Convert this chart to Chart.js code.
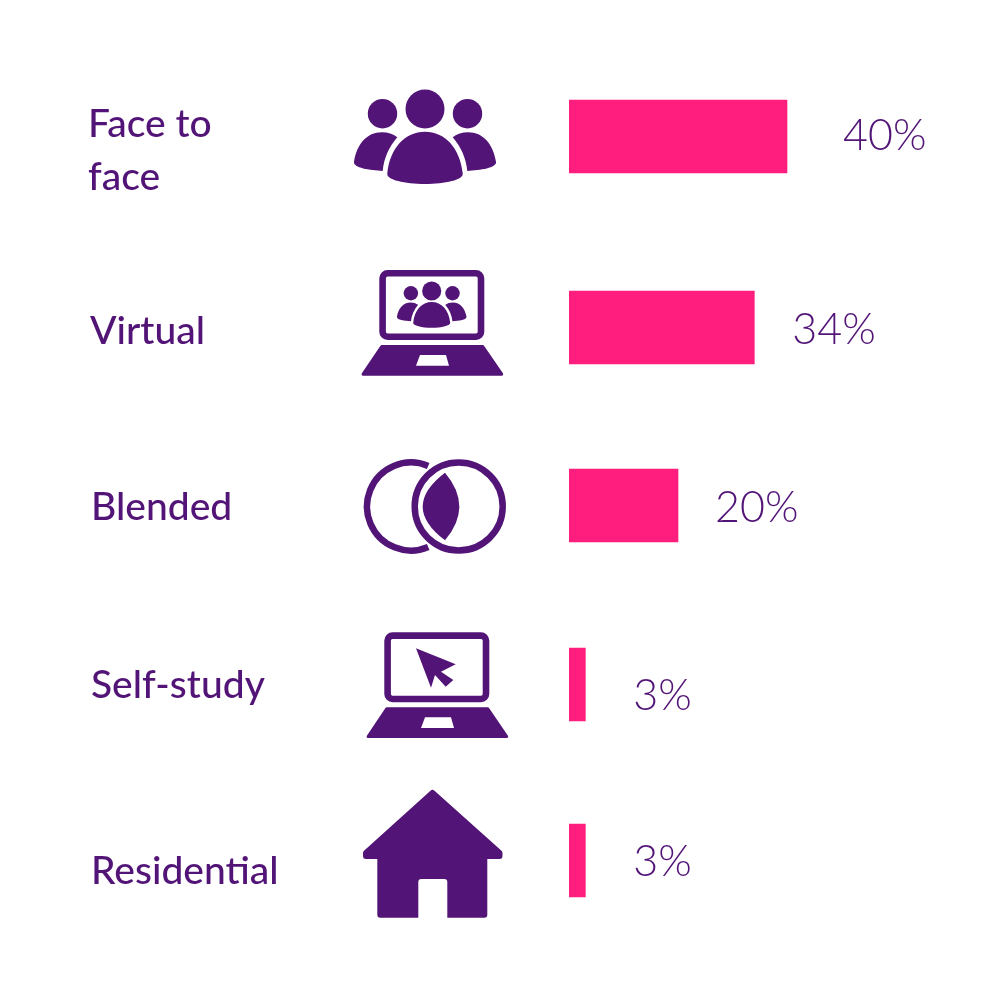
<!DOCTYPE html>
<html>
<head>
<meta charset="utf-8">
<style>
  html, body { margin: 0; padding: 0; background: #fff; overflow: hidden; }
  canvas { display: block; }
</style>
<script src="https://cdn.jsdelivr.net/npm/chart.js@4/dist/chart.umd.js"></script>
</head>
<body>
<canvas id="chart" width="1008" height="1008"></canvas>
<script>
const categories = ['Face to face', 'Virtual', 'Blended', 'Self-study', 'Residential'];
const shares = [40, 34, 20, 3, 3];

const purple = '#521477';
const pink = '#ff1e7d';

// the rows in the picture are not quite evenly spaced
const rowNudge = [0, 10, 7, 5, 0];
const labelLines = [['Face to', 'face'], ['Virtual'], ['Blended'], ['Self-study'], ['Residential']];
const labelLeft = [88, 90, 91, 91, 91];
const labelDrop = [0, 16, 14, 13, 23];   // first baseline, below bar centre
const valueGap = [56, 38, 37, 48, 48];   // from bar end
const valueDrop = [13, 16, 16, 25, 15];

class RowScale extends Chart.CategoryScale {
    getPixelForValue(value) {
        const i = typeof value === 'number' ? value : this.parse(value);
        return super.getPixelForValue(i) + (rowNudge[i] || 0);
    }
}
RowScale.id = 'rowScale';
RowScale.defaults = Chart.CategoryScale.defaults;
Chart.register(RowScale);

function drawPeople(ctx, cx, cy, s) {
    ctx.save();
    ctx.translate(cx, cy);
    ctx.scale(s, s);
    ctx.fillStyle = purple;
    ctx.beginPath();
    ctx.arc(0, -27, 19.5, 0, Math.PI * 2);
    ctx.fill();
    for (const side of [-1, 1]) {
        ctx.beginPath();
        ctx.arc(side * 42.5, -22.3, 14.7, 0, Math.PI * 2);
        ctx.fill();
        ctx.beginPath();
        ctx.moveTo(side * 27.7, 1.3);
        ctx.bezierCurveTo(side * 36, 11, side * 41, 22, side * 42.3, 35);
        ctx.bezierCurveTo(side * 55, 34, side * 72, 32, side * 71, 25.7);
        ctx.bezierCurveTo(side * 68, 8, side * 58, -3.7, side * 43.3, -3.7);
        ctx.bezierCurveTo(side * 37, -3.7, side * 32, -2, side * 27.7, 1.3);
        ctx.fill();
    }
    ctx.beginPath();
    ctx.moveTo(-37.7, 37.3);
    ctx.bezierCurveTo(-35, 12, -20, -4.3, 0, -4.3);
    ctx.bezierCurveTo(20, -4.3, 35, 12, 37.7, 37.3);
    ctx.bezierCurveTo(39, 44, 20, 48, 0, 48);
    ctx.bezierCurveTo(-20, 48, -39, 44, -37.7, 37.3);
    ctx.fill();
    ctx.restore();
}

// x, y = top left of the screen
function drawLaptop(ctx, x, y) {
    ctx.save();
    ctx.strokeStyle = purple;
    ctx.lineWidth = 6.6;
    ctx.beginPath();
    ctx.roundRect(x + 3.3, y + 3.3, 98.4, 63.4, 5);
    ctx.stroke();
    ctx.fillStyle = purple;
    ctx.strokeStyle = purple;
    ctx.lineWidth = 3;
    ctx.lineJoin = 'round';
    ctx.beginPath();
    ctx.moveTo(x + 2.4, y + 76.5);
    ctx.lineTo(x + 103.5, y + 76.5);
    ctx.lineTo(x + 122.4, y + 104.2);
    ctx.lineTo(x - 16.2, y + 104.2);
    ctx.closePath();
    ctx.fill();
    ctx.stroke();
    ctx.fillStyle = '#fff';
    ctx.beginPath();
    ctx.moveTo(x + 40.7, y + 85);
    ctx.lineTo(x + 66.7, y + 85);
    ctx.lineTo(x + 69.7, y + 95.7);
    ctx.lineTo(x + 36.7, y + 95.7);
    ctx.closePath();
    ctx.fill();
    ctx.restore();
}

function drawCursor(ctx, x, y) {
    ctx.save();
    ctx.fillStyle = purple;
    ctx.beginPath();
    ctx.moveTo(x, y);
    ctx.lineTo(x + 39.7, y + 16);
    ctx.lineTo(x + 25, y + 23.4);
    ctx.lineTo(x + 37.3, y + 31.7);
    ctx.lineTo(x + 29.7, y + 38.4);
    ctx.lineTo(x + 19, y + 26.7);
    ctx.lineTo(x + 15, y + 39.4);
    ctx.closePath();
    ctx.fill();
    ctx.restore();
}

function drawCircles(ctx, y) {
    ctx.save();
    ctx.strokeStyle = purple;
    ctx.fillStyle = purple;
    ctx.lineWidth = 6.5;
    const open = 67 * Math.PI / 180;
    ctx.beginPath();
    ctx.arc(411, y, 44, open, -open);
    ctx.stroke();
    ctx.beginPath();
    ctx.arc(458.7, y, 44, 0, Math.PI * 2);
    ctx.stroke();
    ctx.beginPath();
    ctx.moveTo(445, y - 33.8);
    ctx.quadraticCurveTo(400.4, y, 445, y + 33.8);
    ctx.quadraticCurveTo(473.6, y, 445, y - 33.8);
    ctx.fill();
    ctx.restore();
}

function drawHouse(ctx) {
    ctx.save();
    ctx.fillStyle = purple;
    ctx.strokeStyle = purple;
    ctx.lineWidth = 6;
    ctx.lineJoin = 'round';
    ctx.beginPath();
    ctx.moveTo(432.5, 793);
    ctx.lineTo(499.5, 853);
    ctx.lineTo(499.5, 856);
    ctx.lineTo(366, 856);
    ctx.lineTo(366, 853);
    ctx.closePath();
    ctx.fill();
    ctx.stroke();
    ctx.beginPath();
    ctx.roundRect(377.3, 850, 110, 67.7, 3);
    ctx.fill();
    ctx.fillStyle = '#fff';
    ctx.beginPath();
    ctx.roundRect(418.3, 879, 29, 42, 3);
    ctx.fill();
    ctx.restore();
}

const rowArt = {
    id: 'rowArt',
    afterDatasetsDraw(chart) {
        const ctx = chart.ctx;
        const bars = chart.getDatasetMeta(0).data;

        drawPeople(ctx, 425, 136, 1);
        drawLaptop(ctx, 379.3, 270);
        drawPeople(ctx, 431.7, 304.2, 0.49);
        drawCircles(ctx, 506.5);
        drawLaptop(ctx, 384.3, 632.3);
        drawCursor(ctx, 416, 648.3);
        drawHouse(ctx);

        ctx.save();
        ctx.textAlign = 'left';
        ctx.textBaseline = 'alphabetic';
        ctx.fillStyle = purple;
        bars.forEach((bar, i) => {
            ctx.font = '500 39px Lato';
            labelLines[i].forEach((line, n) => {
                ctx.fillText(line, labelLeft[i], bar.y + labelDrop[i] + n * 53);
            });
            ctx.font = '300 43px Lato';
            ctx.fillText(shares[i] + '%', bar.x + valueGap[i], bar.y + valueDrop[i]);
        });
        ctx.restore();
    }
};

new Chart(document.getElementById('chart'), {
    type: 'bar',
    data: {
        labels: categories,
        datasets: [{
            data: shares,
            backgroundColor: pink,
            barThickness: 73,
            borderWidth: 0
        }]
    },
    options: {
        indexAxis: 'y',
        responsive: false,
        animation: false,
        layout: { padding: { left: 569, right: 3, top: 46, bottom: 57 } },
        plugins: { legend: { display: false }, tooltip: { enabled: false } },
        scales: {
            x: { type: 'linear', min: 0, max: 80, display: false },
            y: { type: 'rowScale', display: false }
        }
    },
    plugins: [rowArt]
});
</script>
</body>
</html>
